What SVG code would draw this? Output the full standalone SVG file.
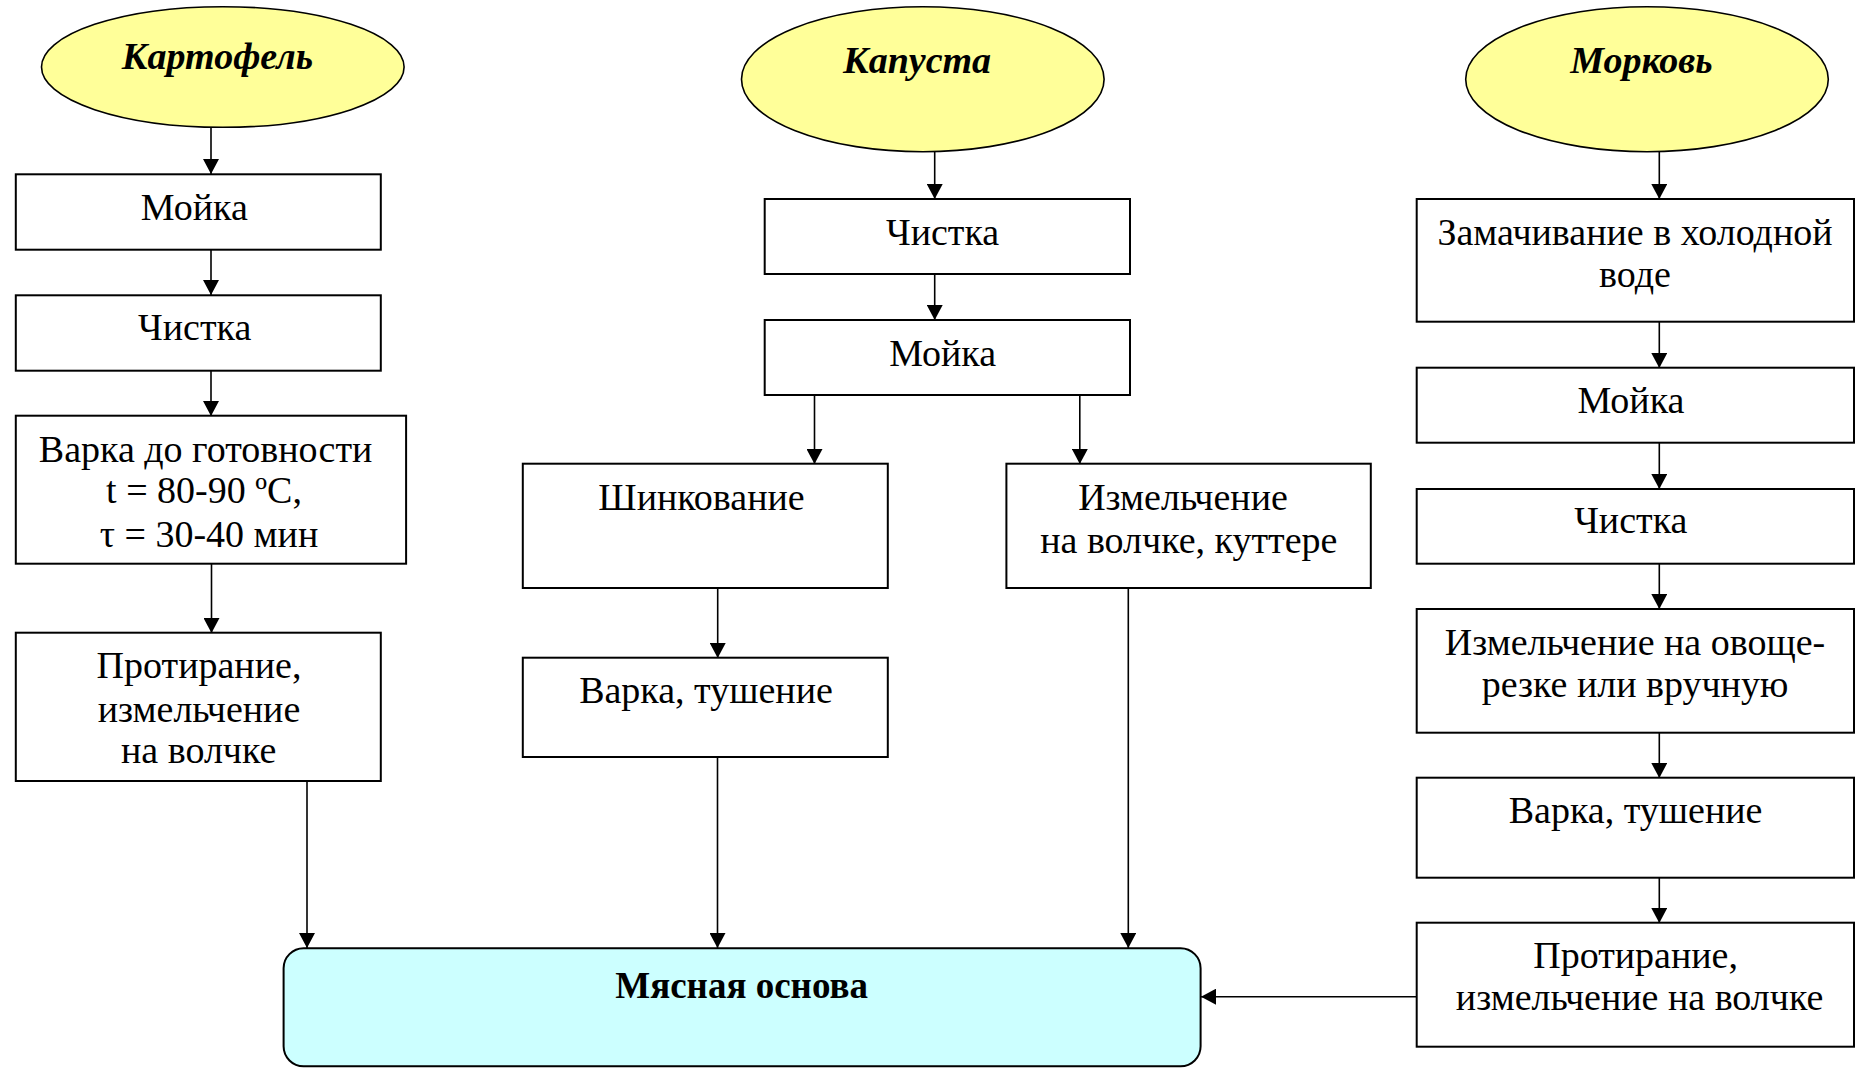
<svg xmlns="http://www.w3.org/2000/svg" width="1859" height="1069" viewBox="0 0 1859 1069">
<style>
.bg{fill:#ffffff}
.box{fill:#ffffff;stroke:#000;stroke-width:2}
.oval{fill:#ffff99;stroke:#000;stroke-width:1.6}
.main{fill:#ccffff;stroke:#000;stroke-width:2}
.t{font-family:"Liberation Serif","Times New Roman",serif;font-size:38px;fill:#000;text-anchor:middle}
.ti{font-family:"Liberation Serif","Times New Roman",serif;font-size:38px;font-weight:bold;font-style:italic;fill:#000;text-anchor:middle}
.tb{font-family:"Liberation Serif","Times New Roman",serif;font-size:37px;font-weight:bold;fill:#000;text-anchor:middle}
.c{stroke:#000;stroke-width:1.6;fill:none;marker-end:url(#ah)}
</style>
<defs>
<marker id="ah" markerUnits="userSpaceOnUse" markerWidth="16" markerHeight="16" refX="15" refY="8" orient="auto">
<path d="M0,0 L15,8 L0,16 z" fill="#000"/>
</marker>
</defs>
<rect class="bg" x="0" y="0" width="1859" height="1069"/>

<g id="connectors">
<line class="c" x1="211" y1="127" x2="211" y2="174"/>
<line class="c" x1="211" y1="250" x2="211" y2="295"/>
<line class="c" x1="211" y1="371" x2="211" y2="416"/>
<line class="c" x1="211.5" y1="564" x2="211.5" y2="633"/>
<line class="c" x1="307" y1="781" x2="307" y2="948"/>
<line class="c" x1="934.7" y1="152" x2="934.7" y2="199"/>
<line class="c" x1="934.7" y1="274" x2="934.7" y2="320"/>
<line class="c" x1="814.5" y1="395" x2="814.5" y2="464"/>
<line class="c" x1="1079.8" y1="395" x2="1079.8" y2="464"/>
<line class="c" x1="717.7" y1="588" x2="717.7" y2="658"/>
<line class="c" x1="717.5" y1="757" x2="717.5" y2="948"/>
<line class="c" x1="1128.3" y1="588" x2="1128.3" y2="948"/>
<line class="c" x1="1659.3" y1="152" x2="1659.3" y2="199"/>
<line class="c" x1="1659.3" y1="322" x2="1659.3" y2="368"/>
<line class="c" x1="1659.3" y1="443" x2="1659.3" y2="489"/>
<line class="c" x1="1659.3" y1="564" x2="1659.3" y2="609"/>
<line class="c" x1="1659.3" y1="733" x2="1659.3" y2="778"/>
<line class="c" x1="1659.3" y1="878" x2="1659.3" y2="923"/>
<line class="c" x1="1417" y1="996.7" x2="1201" y2="996.7"/>
</g>

<g id="potato">
<ellipse class="oval" cx="222.8" cy="67" rx="181.3" ry="60.3"/>
<text class="ti" x="217.5" y="69.3">Картофель</text>
</g>
<g id="p-wash">
<rect class="box" x="15.8" y="174.3" width="365" height="75.4"/>
<text class="t" x="194.3" y="220">Мойка</text>
</g>
<g id="p-peel">
<rect class="box" x="15.8" y="295.3" width="365" height="75.4"/>
<text class="t" x="194.7" y="340">Чистка</text>
</g>
<g id="p-boil">
<rect class="box" x="15.8" y="415.7" width="390.3" height="148"/>
<text class="t" x="205.6" y="461.7">Варка до готовности</text>
<text class="t" x="204" y="503.3">t = 80-90 ºC,</text>
<text class="t" x="209" y="546.7">τ = 30-40 мин</text>
</g>
<g id="p-mash">
<rect class="box" x="15.8" y="632.7" width="365" height="148.3"/>
<text class="t" x="199" y="678.3">Протирание,</text>
<text class="t" x="199" y="721.7">измельчение</text>
<text class="t" x="198.7" y="763.3">на волчке</text>
</g>

<g id="cabbage">
<ellipse class="oval" cx="922.8" cy="79.2" rx="181.3" ry="72.5"/>
<text class="ti" x="917" y="72.7">Капуста</text>
</g>
<g id="c-peel">
<rect class="box" x="764.7" y="199" width="365.3" height="75"/>
<text class="t" x="942.6" y="245">Чистка</text>
</g>
<g id="c-wash">
<rect class="box" x="764.7" y="320" width="365.3" height="75"/>
<text class="t" x="942.6" y="366">Мойка</text>
</g>
<g id="c-shred">
<rect class="box" x="522.8" y="463.7" width="365" height="124.3"/>
<text class="t" x="701.5" y="510">Шинкование</text>
</g>
<g id="c-stew">
<rect class="box" x="522.8" y="657.7" width="365" height="99.3"/>
<text class="t" x="706" y="703.3">Варка, тушение</text>
</g>
<g id="c-grind">
<rect class="box" x="1006.4" y="463.7" width="364.4" height="124.3"/>
<text class="t" x="1183" y="510">Измельчение</text>
<text class="t" x="1188.8" y="553.3">на волчке, куттере</text>
</g>

<g id="carrot">
<ellipse class="oval" cx="1647" cy="79.2" rx="181.3" ry="72.5"/>
<text class="ti" x="1641.5" y="72.7">Морковь</text>
</g>
<g id="m-soak">
<rect class="box" x="1416.7" y="199" width="437.3" height="122.7"/>
<text class="t" x="1635" y="245">Замачивание в холодной</text>
<text class="t" x="1635" y="286.7">воде</text>
</g>
<g id="m-wash">
<rect class="box" x="1416.7" y="367.7" width="437.3" height="75"/>
<text class="t" x="1631" y="413">Мойка</text>
</g>
<g id="m-peel">
<rect class="box" x="1416.7" y="489" width="437.3" height="74.7"/>
<text class="t" x="1630.8" y="533.3">Чистка</text>
</g>
<g id="m-cut">
<rect class="box" x="1416.7" y="609" width="437.3" height="123.7"/>
<text class="t" x="1635" y="655">Измельчение на овоще-</text>
<text class="t" x="1635" y="696.7">резке или вручную</text>
</g>
<g id="m-stew">
<rect class="box" x="1416.7" y="777.7" width="437.3" height="100"/>
<text class="t" x="1635.6" y="823.3">Варка, тушение</text>
</g>
<g id="m-mash">
<rect class="box" x="1416.7" y="922.7" width="437.3" height="124"/>
<text class="t" x="1635.6" y="968.3">Протирание,</text>
<text class="t" x="1639.6" y="1010">измельчение на волчке</text>
</g>

<g id="meat-base">
<rect class="main" x="283.6" y="948.3" width="917" height="118" rx="20" ry="20"/>
<text class="tb" x="741.6" y="998.3">Мясная основа</text>
</g>
</svg>
